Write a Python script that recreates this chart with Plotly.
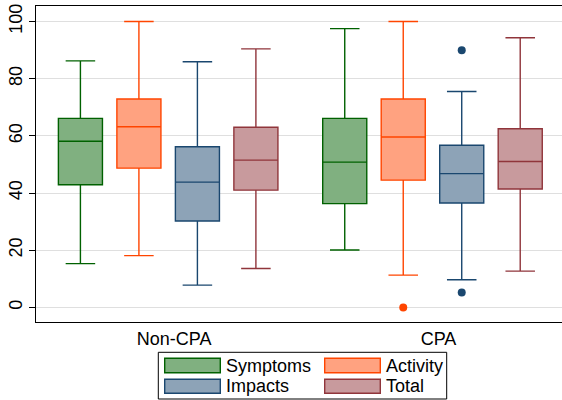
import plotly.graph_objects as go

# ---------------- data ----------------
groups = ["Non-CPA", "CPA"]
series = ["Symptoms", "Activity", "Impacts", "Total"]

symptoms_lower = [15.3, 20.1]
symptoms_q1 = [42.9, 36.3]
symptoms_median = [58.1, 50.8]
symptoms_q3 = [66.1, 66.1]
symptoms_upper = [86.2, 97.5]
symptoms_outliers = [[], []]

activity_lower = [18.1, 11.3]
activity_q1 = [48.7, 44.5]
activity_median = [63.2, 59.6]
activity_q3 = [72.9, 72.9]
activity_upper = [100.0, 100.0]
activity_outliers = [[], [0.0]]

impacts_lower = [7.8, 9.7]
impacts_q1 = [30.2, 36.5]
impacts_median = [43.8, 46.8]
impacts_q3 = [56.2, 56.7]
impacts_upper = [85.9, 75.5]
impacts_outliers = [[], [89.9, 5.2]]

total_lower = [13.6, 12.7]
total_q1 = [41.0, 41.4]
total_median = [51.5, 51.0]
total_q3 = [63.0, 62.5]
total_upper = [90.4, 94.3]
total_outliers = [[], []]

y_ticks = [0, 20, 40, 60, 80, 100]

# ---------------- styles ----------------
line_colors = ["rgb(0,97,0)", "rgb(255,69,0)", "rgb(26,71,111)", "rgb(144,53,59)"]
fill_colors = ["rgb(128,176,128)", "rgb(255,162,128)", "rgb(141,163,183)", "rgb(200,154,157)"]

stats = [
    (symptoms_lower, symptoms_q1, symptoms_median, symptoms_q3, symptoms_upper, symptoms_outliers),
    (activity_lower, activity_q1, activity_median, activity_q3, activity_upper, activity_outliers),
    (impacts_lower, impacts_q1, impacts_median, impacts_q3, impacts_upper, impacts_outliers),
    (total_lower, total_q1, total_median, total_q3, total_upper, total_outliers),
]

W, H = 562, 400
ML, MR, MT, MB = 36, 0, 6, 78
PW, PH = W - ML - MR, H - MT - MB

SPACING = 0.2213
BOX_W = 0.1667
FONT = "Liberation Sans, Arial, Helvetica, sans-serif"

fig = go.Figure()
n = len(series)
for i, name in enumerate(series):
    lo, q1, med, q3, up, outs = stats[i]
    xs = [g + (i - (n - 1) / 2) * SPACING for g in range(len(groups))]
    fig.add_trace(go.Box(
        name=name, x=xs, q1=q1, median=med, q3=q3,
        lowerfence=lo, upperfence=up,
        width=BOX_W, whiskerwidth=0.67,
        fillcolor=fill_colors[i],
        line=dict(color=line_colors[i], width=1.4),
        boxpoints=False, showlegend=False, hoverinfo="skip",
    ))
    ox, oy = [], []
    for g, vals in enumerate(outs):
        for v in vals:
            ox.append(xs[g])
            oy.append(v)
    if ox:
        fig.add_trace(go.Scatter(
            x=ox, y=oy, mode="markers",
            marker=dict(color=line_colors[i], size=8),
            showlegend=False, hoverinfo="skip",
        ))

# manual legend (pixel layout -> paper coords)
def px_x(px):
    return (px - ML) / PW

def px_y(py):
    return (H - MB - py) / PH

shapes = [dict(type="rect", xref="paper", yref="paper",
               x0=px_x(158.3), x1=px_x(446.7), y0=px_y(352.3), y1=px_y(399.0),
               line=dict(color="black", width=1), fillcolor="white", layer="above")]
annotations = []
cols = [(164.7, 224.0), (324.7, 383.5)]
rows = [(358.3, 372.7), (379.3, 393.3)]
for i, name in enumerate(series):
    r, c = divmod(i, 2)
    sx, tx = cols[c]
    y0, y1 = rows[r]
    shapes.append(dict(type="rect", xref="paper", yref="paper",
                       x0=px_x(sx), x1=px_x(sx + 55.6), y0=px_y(y1), y1=px_y(y0),
                       line=dict(color=line_colors[i], width=1.4),
                       fillcolor=fill_colors[i], layer="above"))
    annotations.append(dict(xref="paper", yref="paper", x=px_x(tx), y=px_y((y0 + y1) / 2),
                            text=name, showarrow=False, xanchor="left", yanchor="middle",
                            font=dict(family=FONT, size=18, color="black")))

fig.update_layout(
    width=W, height=H,
    margin=dict(l=ML, r=MR, t=MT, b=MB, pad=0, autoexpand=False),
    paper_bgcolor="white", plot_bgcolor="white",
    boxmode="overlay",
    font=dict(family=FONT, size=18, color="black"),
    shapes=shapes, annotations=annotations,
    showlegend=False,
)
fig.update_xaxes(
    automargin=False,
    range=[-0.5, 1.49], tickvals=list(range(len(groups))), ticktext=groups,
    showgrid=False, zeroline=False, showline=True, linecolor="black", linewidth=1.3,
    mirror=True, ticks="", ticklabelshift=6,
    tickfont=dict(family=FONT, size=18, color="black"),
)
fig.update_yaxes(
    automargin=False,
    range=[-5.1, 105.4], tickvals=y_ticks, tickangle=-90,
    showgrid=True, gridcolor="rgb(223,223,223)", gridwidth=1.2, zeroline=False,
    showline=True, linecolor="black", linewidth=1.3,
    ticks="outside", ticklen=6, tickcolor="black", tickwidth=1,
    tickfont=dict(family=FONT, size=18, color="black"),
)

fig.write_html(
    "out.html",
    config={"displayModeBar": False},
    post_script="document.body.style.margin='0px';document.body.style.overflow='hidden';",
)
